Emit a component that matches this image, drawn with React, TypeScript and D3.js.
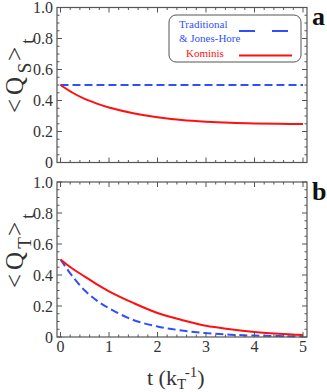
import React from 'react';
import * as d3 from 'd3';

// time axis (units of 1/k_T)
const times = [0, 0.25, 0.5, 0.75, 1, 1.5, 2, 2.5, 3, 3.5, 4, 4.5, 5];

// panel a: <Q_S>_t
const singletTraditional = [0.5, 0.5, 0.5, 0.5, 0.5, 0.5, 0.5, 0.5, 0.5, 0.5, 0.5, 0.5, 0.5];
const singletKominis = [0.5, 0.45, 0.41, 0.38, 0.355, 0.318, 0.292, 0.274, 0.263, 0.256, 0.252, 0.25, 0.248];

// panel b: <Q_T>_t
const tripletTraditional = [0.5, 0.39, 0.3, 0.235, 0.185, 0.11, 0.068, 0.042, 0.025, 0.015, 0.009, 0.006, 0.003];
const tripletKominis = [0.5, 0.44, 0.39, 0.34, 0.295, 0.22, 0.155, 0.11, 0.072, 0.05, 0.033, 0.021, 0.013];

const xTickValues = [0, 1, 2, 3, 4, 5];
const xTickLabels = ['0', '1', '2', '3', '4', '5'];
const yTickValues = [0, 0.2, 0.4, 0.6, 0.8, 1.0];
const yTickLabels = ['0', '0.2', '0.4', '0.6', '0.8', '1.0'];

const legendLabels = ['Traditional', '& Jones-Hore', 'Kominis'];

const SERIF = '"Liberation Serif", "Times New Roman", "DejaVu Serif", serif';
const BLUE = '#2f4fff';
const RED = '#ff1010';
const FRAME = '#555';
const TEXT = '#333';

const W = 327, H = 392;
const frameLeft = 57, frameRight = 307;

const xScale = d3.scaleLinear().domain([0, 5]).range([60.5, 303]);

const panels = [
  { key: 'a', top: 7.5, bottom: 162.5, trad: singletTraditional, kom: singletKominis, sub: 'S' },
  { key: 'b', top: 182, bottom: 337, trad: tripletTraditional, kom: tripletKominis, sub: 'T' },
];

const Panel = ({ p, idx }) => {
  const yScale = d3.scaleLinear().domain([0, 1]).range([p.bottom, p.top]);
  const line = d3.line()
    .x((d) => xScale(d[0]))
    .y((d) => yScale(d[1]))
    .curve(d3.curveCatmullRom.alpha(0.5));
  const tradPts = times.map((t, i) => [t, p.trad[i]]);
  const komPts = times.map((t, i) => [t, p.kom[i]]);

  const yMinor = d3.range(0, 1.0001, 0.05);
  const xMinor = d3.range(0, 5.0001, 0.2);
  const ticks = [];
  yMinor.forEach((v, i) => {
    const major = i % 4 === 0;
    const len = major ? 5 : 2.5;
    const y = yScale(v);
    ticks.push(<line key={'yl' + i} x1={frameLeft} x2={frameLeft + len} y1={y} y2={y} />);
    ticks.push(<line key={'yr' + i} x1={frameRight} x2={frameRight - len} y1={y} y2={y} />);
  });
  xMinor.forEach((v, i) => {
    const major = i % 5 === 0;
    const len = major ? 5 : 2.5;
    const x = xScale(v);
    ticks.push(<line key={'xb' + i} x1={x} x2={x} y1={p.bottom} y2={p.bottom - len} />);
    ticks.push(<line key={'xt' + i} x1={x} x2={x} y1={p.top} y2={p.top + len} />);
  });

  const off = idx * 175;

  return (
    <g>
      <path d={line(tradPts)} fill="none" stroke={BLUE} strokeWidth={2} strokeDasharray="8,4" />
      <path d={line(komPts)} fill="none" stroke={RED} strokeWidth={2} />
      <rect x={frameLeft} y={p.top} width={frameRight - frameLeft} height={p.bottom - p.top}
        fill="none" stroke={FRAME} strokeWidth={1.2} />
      <g stroke={FRAME} strokeWidth={1}>{ticks}</g>
      {yTickValues.map((v, i) => (
        <text key={'ytl' + i} x={53} y={yScale(v) + 5.5} textAnchor="end"
          fontSize={16} fontFamily={SERIF} fill={TEXT}>{yTickLabels[i]}</text>
      ))}
      {idx === 1 && xTickValues.map((v, i) => (
        <text key={'xtl' + i} x={xScale(v)} y={352} textAnchor="middle"
          fontSize={16} fontFamily={SERIF} fill={TEXT}>{xTickLabels[i]}</text>
      ))}
      {/* rotated y label: <Q_S>_t */}
      <text transform="rotate(-90)" fontFamily={SERIF} fill={TEXT} textAnchor="middle">
        <tspan x={-(106 + off)} y={23} fontSize={25}>&lt;</tspan>
        <tspan x={-(86 + off)} y={23} fontSize={25}>Q</tspan>
        <tspan x={-(68 + off)} y={31} fontSize={19}>{p.sub}</tspan>
        <tspan x={-(54 + off)} y={23} fontSize={25}>&gt;</tspan>
        <tspan x={-(41 + off)} y={34} fontSize={19}>t</tspan>
      </text>
      <text x={312} y={25 + off} fontSize={26} fontWeight="bold" fontFamily={SERIF} fill="#111">{p.key}</text>
    </g>
  );
};

const App = () => {
  return (
    <svg width={W} height={H} style={{ position: 'absolute', left: 0, top: 0, background: '#fff' }}>
      {panels.map((p, i) => <Panel key={p.key} p={p} idx={i} />)}

      {/* legend */}
      <rect x={169} y={15} width={132} height={47} rx={7} fill="#fff" stroke={FRAME} strokeWidth={1} />
      <text x={179} y={28} fontSize={11} fontFamily={SERIF} fill={BLUE}>{legendLabels[0]}</text>
      <text x={179} y={41.5} fontSize={11} fontFamily={SERIF} fill={BLUE}>{legendLabels[1]}</text>
      <text x={186} y={56.5} fontSize={11} fontFamily={SERIF} fill={RED}>{legendLabels[2]}</text>
      <line x1={239} x2={289} y1={31} y2={31} stroke={BLUE} strokeWidth={1.8} strokeDasharray="16,17" />
      <line x1={239} x2={292} y1={55.5} y2={55.5} stroke={RED} strokeWidth={1.8} />

      {/* x label */}
      <text x={147} y={385} fontFamily={SERIF} fill={TEXT} fontSize={22}>
        t (k
        <tspan fontSize={15} dy={4}>T</tspan>
        <tspan fontSize={15} dy={-12}>-1</tspan>
        <tspan fontSize={22} dy={8}>)</tspan>
      </text>
    </svg>
  );
};

export default App;
